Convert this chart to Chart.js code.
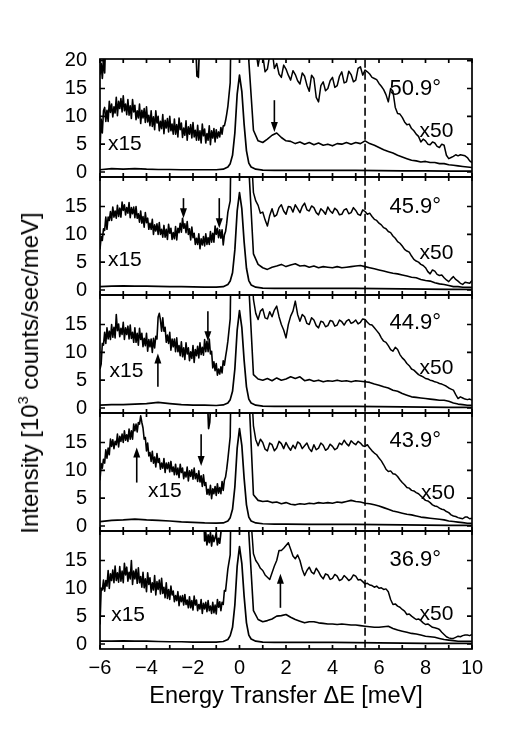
<!DOCTYPE html>
<html>
<head>
<meta charset="utf-8">
<script src="https://cdn.jsdelivr.net/npm/chart.js@4.4.0/dist/chart.umd.min.js"></script>
<style>
  body { margin: 0; background: #fff; width: 520px; height: 736px; position: relative; overflow: hidden;
         font-family: "Liberation Sans", Arial, sans-serif; }
  canvas { position: absolute; left: 0; }
  #ytitle { position: absolute; left: 30px; top: 373px; transform: translate(-50%, -50%) rotate(-90deg);
            white-space: nowrap; font-size: 24px; color: #000; }
  #ytitle sup { font-size: 60%; vertical-align: 0.7em; line-height: 0; }
</style>
</head>
<body>
<canvas id="p0"></canvas>
<canvas id="p1"></canvas>
<canvas id="p2"></canvas>
<canvas id="p3"></canvas>
<canvas id="p4"></canvas>
<div id="ytitle">Intensity [10<sup>3</sup> counts/sec/meV]</div>
<script>
// scattering angles, one panel each (top to bottom)
const angleLabels = ['50.9°', '45.9°', '44.9°', '43.9°', '36.9°'];

// sampling positions (meV)
const leftX = Array.from({ length: 111 }, (_, i) => +(-6 + i * 0.05).toFixed(2)); // -6 .. -0.5
const peakX = [-0.4, -0.3, -0.2, -0.1, 0, 0.1, 0.2, 0.3];
const rightX = Array.from({ length: 49 }, (_, i) => +(0.4 + i * 0.2).toFixed(1));  // 0.4 .. 10
const x50X = Array.from({ length: 97 }, (_, i) => +(0.4 + i * 0.1).toFixed(1));    // 0.4 .. 10
const baseX = [-6, -5.5, -5, -4.5, -4, -3.5, -3, -2.5, -2, -1.5, -1, -0.7, -0.5, -0.4, -0.3, -0.2, -0.1,
               0, 0.1, 0.2, 0.3, 0.4, 0.5, 0.7, 1, 1.5, 2, 3, 4, 5, 6, 7, 8, 9, 10];

// x15 curve through the elastic line (off scale)
const x15Peak = [16, 45, 100, 200, 260, 200, 100, 40];

// ---- 50.9 deg ----
const x15Left509 = [4.0,9.5,7.0,11.0,11.6,9.1,11.1,9.1,12.7,10.7,
  12.2,9.9,11.7,10.6,13.4,10.1,12.7,11.4,13.2,10.8,
  13.7,11.0,12.2,10.3,13.0,10.2,11.9,9.6,13.0,10.8,
  12.0,9.4,11.0,9.7,12.2,8.7,11.1,9.7,11.4,8.9,
  11.7,9.0,10.2,8.3,11.0,8.2,9.9,7.6,11.0,8.8,
  10.0,7.4,9.1,7.8,10.3,6.9,9.3,7.9,9.6,7.2,
  10.0,7.4,8.6,6.8,9.5,6.8,8.5,6.3,9.7,7.6,
  8.8,6.2,7.9,6.6,9.2,5.7,8.1,6.8,8.5,6.1,
  8.9,6.3,7.5,5.7,8.4,5.7,7.4,5.2,8.6,6.5,
  7.7,5.2,6.9,5.7,8.3,4.9,7.4,6.1,7.8,5.4,
  7.6,6.1,7.2,6.3,8.0,6.8,8.3,8.3,9.2,10.4,
  11.8];
const x15Right509 = [20,7.5,5.6,5.3,5.9,6.6,7.0,6.2,5.6,5.5,
  5.1,5.4,5.0,5.3,4.9,5.2,4.8,5.0,4.7,5.1,
  5.0,5.3,5.0,5.3,5.1,5.6,5.1,4.8,4.4,4.0,
  3.7,3.4,3.0,2.7,2.4,2.1,2.0,1.8,1.9,1.7,
  1.7,1.5,1.5,1.3,1.2,1.1,1.0,0.9,0.8];
const x50Right509 = [60,45,30,22,19,21.5,21,18,18.5,21,
  22,18.6,19.5,17.6,17,19.2,18.5,17.4,16.5,18.2,
  17.5,16.4,15.8,17.8,17.2,15.6,14.5,17.4,16.8,13.4,
  12.6,15.5,16.2,14.6,15.0,16.4,17.0,15.2,15.5,17.2,
  18.0,16.0,16.2,18.1,17.5,16.2,16.5,18.6,18.9,17.4,
  18.3,18.0,17.6,17.0,16.8,16.6,15.9,15.4,14.8,13.9,
  12.6,15.0,14.5,11.6,10.5,10.4,9.8,9.0,8.5,8.6,
  7.8,7.4,6.8,6.4,5.4,5.9,5.6,5.0,4.9,5.4,
  5.2,4.6,4.4,5.0,4.8,3.0,2.4,2.6,2.8,3.1,
  2.9,3.1,3.0,2.9,2.6,2.0,1.7];
const base509 = [0.4,0.6,0.5,0.6,0.5,0.45,0.45,0.4,0.4,0.4,
  0.4,0.5,0.9,1.5,3.0,7.0,14.0,17.4,14.5,8.5,
  3.8,1.6,0.9,0.5,0.35,0.3,0.3,0.3,0.3,0.3,
  0.25,0.2,0.2,0.15,0.15];
const x50FragX509 = [-6, -5.95, -5.9, -5.85, -5.8, -5.75, -4, -1.9, -1.83, -1.8, -1.77, -1.7];
const x50FragY509 = [17.5, 19.5, 16.8, 20.5, 17.8, 25, null, 25, 17.2, 18, 17, 25];

// ---- 45.9 deg ----
const x15Left459 = [7.3,9.6,8.9,11.0,10.7,13.1,10.9,13.1,12.5,14.1,
  12.5,14.9,13.1,14.2,12.9,15.2,13.2,14.7,13.1,15.8,
  14.3,15.3,13.5,14.8,13.8,15.7,13.0,14.8,13.7,14.9,
  13.0,15.0,12.9,13.7,12.2,14.2,12.0,13.2,11.3,13.9,
  12.1,12.9,10.9,12.0,10.9,12.7,10.0,11.7,10.6,11.9,
  10.0,12.1,10.0,10.9,9.5,11.6,9.5,10.9,9.1,11.8,
  10.2,11.1,9.1,10.3,9.2,11.4,9.0,11.1,10.3,12.0,
  10.4,12.9,11.1,11.9,10.3,12.3,10.0,11.0,9.0,11.3,
  9.4,10.2,8.2,9.3,8.2,10.1,7.4,9.2,8.1,9.6,
  7.9,10.1,8.2,9.4,8.2,10.5,8.6,10.2,8.6,11.5,
  10.0,11.1,9.4,10.8,9.3,10.8,8.1,9.9,10.5,12.0,
  14.0];
const x15Right459 = [22,6.5,4.6,4.0,3.7,4.1,4.3,4.6,4.2,4.5,
  4.7,4.3,4.4,4.1,4.3,4.0,4.2,4.1,4.0,4.2,
  4.0,4.1,4.2,4.3,4.4,4.2,4.0,3.8,3.6,3.4,
  3.2,3.0,2.9,2.7,2.5,2.3,2.2,1.9,1.7,1.6,
  1.3,1.1,1.0,0.8,0.6,0.6,0.5,0.5,0.5];
const x50Right459 = [40,25,17.5,16.0,15.2,13.8,14.0,12.6,11.5,13.4,
  14.6,13.2,13.5,14.8,15.3,14.2,13.6,15.0,14.9,14.0,
  15.3,14.6,13.9,15.0,15.6,14.4,14.2,15.1,14.8,13.9,
  13.5,14.6,14.2,13.6,14.9,14.2,13.8,14.7,14.3,13.5,
  13.6,14.4,14.6,13.7,13.9,14.8,14.3,13.6,13.4,14.4,
  14.1,13.6,13.8,13.2,12.7,12.5,12.0,11.7,11.2,11.0,
  10.5,10.3,9.7,9.3,8.7,8.4,7.9,7.3,7.0,6.8,
  6.1,5.5,5.2,5.0,4.6,4.4,4.0,3.3,2.9,3.6,
  3.4,2.8,2.6,2.7,2.2,1.8,1.5,2.0,2.4,1.9,
  1.6,1.2,1.0,1.4,1.3,1.2,1.7];
const base459 = [0.6,0.7,0.75,0.7,0.7,0.65,0.6,0.6,0.55,0.5,
  0.5,0.6,1.0,1.6,3.1,7.2,14.2,17.5,14.6,8.6,
  3.9,1.7,0.9,0.5,0.35,0.3,0.3,0.3,0.3,0.3,
  0.25,0.2,0.15,0.1,0.1];

// ---- 44.9 deg ----
const x15Left449 = [7.0,7.9,11.6,11.3,13.6,11.6,14.4,12.4,13.8,12.3,
  15.0,12.7,14.5,12.6,16.8,13.9,15.1,12.8,14.3,13.2,
  15.4,12.3,14.4,13.2,14.7,12.4,14.9,12.5,13.6,11.8,
  14.4,11.8,13.4,11.3,14.3,12.3,13.4,11.0,12.5,11.2,
  13.4,10.2,12.3,11.0,12.4,10.0,12.5,10.8,12.9,12.4,
  16.3,17.0,15.8,13.8,16.2,13.8,14.5,11.8,13.1,11.6,
  13.6,10.4,12.4,11.0,12.4,10.1,12.6,10.1,11.2,9.4,
  11.9,9.2,10.8,8.7,11.7,9.7,10.8,8.5,10.1,8.9,
  11.2,8.2,10.5,9.4,11.1,9.0,11.7,9.6,10.9,9.5,
  12.3,10.1,12.0,10.1,12.4,9.7,10.2,7.2,8.3,6.7,
  8.0,5.9,7.0,6.1,7.4,6.3,8.5,7.7,9.2,10.5,
  12.0];
const x15Right449 = [22,6.0,5.2,5.0,5.3,4.9,5.4,5.0,5.2,5.6,
  5.3,5.6,4.9,5.1,4.8,5.0,4.7,4.9,4.8,5.0,
  4.8,4.9,4.7,4.9,4.8,4.7,4.6,4.3,4.1,3.8,
  3.6,3.2,3.0,2.6,2.3,2.0,1.9,1.8,1.7,1.6,
  1.5,1.4,1.4,1.2,0.9,0.7,0.6,0.5,0.5];
const x50Right449 = [40,28,19.5,17.0,15.9,17.4,17.8,16.2,16.0,17.3,
  16.4,17.6,18.3,16.4,15.0,14.0,12.6,15.0,16.5,17.4,
  19.2,16.8,15.6,16.8,16.4,15.2,15.0,16.2,15.8,14.8,
  14.4,15.6,15.4,14.6,14.8,15.7,15.6,14.7,14.9,15.8,
  15.5,14.9,15.6,15.9,15.2,15.4,15.8,15.1,15.4,16.0,
  15.9,15.4,15.0,14.9,14.4,13.9,13.4,12.6,12.0,11.8,
  11.2,10.5,10.2,10.9,10.5,9.6,9.0,8.6,8.0,7.6,
  7.0,6.8,6.4,6.0,5.8,5.6,5.3,5.2,5.0,4.9,
  4.7,4.6,4.4,4.3,4.1,3.9,3.6,3.4,3.2,2.4,
  1.7,2.0,1.8,1.6,1.5,1.6,1.4];
const base449 = [0.5,0.6,0.6,0.7,0.8,1.0,0.8,0.6,0.5,0.5,
  0.45,0.55,0.9,1.5,3.0,7.0,14.0,17.5,14.5,8.5,
  3.8,1.6,0.9,0.5,0.35,0.3,0.3,0.3,0.3,0.3,
  0.25,0.2,0.15,0.1,0.1];

// ---- 43.9 deg ----
const x15Left439 = [8.2,11.2,10.4,12.0,11.3,13.7,12.2,14.0,12.8,15.6,
  14.3,15.5,13.9,15.2,14.6,16.5,14.2,16.1,15.2,16.5,
  15.0,17.1,15.4,16.4,15.2,17.4,15.6,17.1,15.6,18.3,
  17.1,18.3,16.9,18.6,18.3,19.8,18.6,17.6,15.6,15.9,
  13.5,14.9,12.6,13.2,11.6,13.4,11.3,12.4,10.6,13.0,
  11.4,12.1,10.2,11.3,10.4,12.1,9.6,11.3,10.3,11.4,
  9.7,11.6,9.8,10.6,9.2,11.1,9.2,10.4,8.7,11.1,
  9.6,10.4,8.5,9.7,8.8,10.6,8.1,9.9,8.9,10.1,
  8.4,10.4,8.5,9.4,8.0,9.9,7.9,9.0,7.1,9.2,
  7.3,7.8,5.7,6.6,5.6,7.3,4.9,6.7,5.8,7.1,
  5.5,7.6,5.9,6.9,5.8,8.0,6.4,8.2,8.8,10.2,
  12.0];
const x15Right439 = [24,5.6,4.6,4.4,4.5,4.2,4.3,4.0,4.2,3.9,
  3.8,4.0,3.9,4.1,4.0,4.2,4.1,4.2,4.1,4.3,
  4.2,4.4,4.6,4.4,4.3,4.1,4.0,3.8,3.6,3.3,
  3.0,2.7,2.5,2.3,2.1,2.0,1.8,1.6,1.5,1.4,
  1.3,1.2,1.1,0.9,0.8,0.7,0.6,0.5,0.5];
const x50Right439 = [40,26,18.0,15.5,14.4,15.6,15.0,13.8,13.5,14.9,
  14.6,13.5,14.0,15.2,14.8,13.9,15.0,14.2,13.6,14.5,
  13.9,15.1,14.8,13.9,14.4,14.9,13.9,13.4,14.6,13.7,
  14.0,14.9,14.5,13.6,13.9,14.7,14.3,13.7,14.0,14.9,
  14.6,15.4,14.8,14.4,15.3,14.9,14.6,15.2,14.9,14.4,
  14.3,14.6,14.0,13.5,13.1,12.8,12.2,11.7,11.0,10.2,
  9.8,9.9,9.4,9.3,8.9,8.3,7.8,7.4,6.9,6.8,
  6.4,6.3,6.0,5.8,5.4,5.0,4.6,4.5,4.2,3.8,
  3.6,3.5,3.2,3.0,2.9,2.6,2.4,2.0,1.8,1.7,
  1.5,1.4,1.3,1.6,1.6,1.3,1.4];
const base439 = [0.8,1.0,1.1,1.25,1.1,1.0,0.9,0.75,0.65,0.55,
  0.5,0.55,0.9,1.5,3.0,7.0,14.0,17.5,14.5,8.5,
  3.8,1.6,0.9,0.55,0.4,0.35,0.35,0.3,0.3,0.3,
  0.25,0.2,0.15,0.1,0.1];
const x50FragX439 = [-1.4, -1.33, -1.28, -1.2];
const x50FragY439 = [25, 17.5, 18.6, 25];

// ---- 36.9 deg ----
const x15Left369 = [3.5,9.8,9.7,11.5,9.5,11.4,10.4,13.2,10.0,12.6,
  11.4,13.3,11.0,14.0,11.4,12.8,11.1,13.9,11.3,13.1,
  11.0,14.5,12.4,13.8,11.3,12.9,11.7,15.0,10.7,13.1,
  11.7,13.4,10.9,13.7,11.0,12.1,10.2,12.9,10.1,11.7,
  9.4,12.8,10.7,11.9,9.3,11.0,9.7,12.3,8.8,11.2,
  9.8,11.5,9.0,11.8,9.1,10.2,8.3,11.0,8.2,9.8,
  8.0,10.4,8.8,9.5,7.6,8.7,7.8,9.4,6.9,8.6,
  7.6,8.7,7.0,8.9,7.1,7.9,6.5,8.5,6.5,7.8,
  6.1,8.6,7.0,7.9,6.0,7.1,6.3,8.0,5.5,7.3,
  6.3,7.5,5.8,7.8,6.0,6.8,5.5,7.5,5.6,7.0,
  5.4,8.0,6.6,7.6,6.0,7.5,7.1,9.6,9.5,11.5,
  13.5];
const x15Right369 = [20,6.0,4.4,4.0,4.2,4.5,5.0,5.1,5.3,4.8,
  4.4,4.1,3.8,4.0,4.0,3.8,3.7,3.6,3.6,3.5,
  3.6,3.5,3.4,3.4,3.3,3.2,3.1,3.0,3.0,3.1,
  3.2,2.8,2.5,2.3,2.1,1.9,1.8,1.6,1.4,1.3,
  1.2,1.0,0.8,0.7,0.6,0.5,0.5,0.5,0.5];
const x50Right369 = [40,22,16.2,15.0,14.4,13.6,13.2,12.4,12.0,11.6,
  12.8,14.0,15.0,16.8,16.8,17.2,17.7,18.2,17.0,15.8,
  15.3,16.0,15.0,13.4,12.3,13.2,13.8,12.9,12.6,13.6,
  13.0,12.2,11.7,12.6,12.4,11.6,11.8,12.5,12.2,11.4,
  11.6,12.3,11.9,11.4,11.7,12.4,12.2,11.5,11.6,11.2,
  10.8,10.9,10.6,10.5,10.2,10.4,10.0,10.1,9.8,9.9,
  9.4,8.0,7.1,7.2,6.8,6.6,6.2,5.9,5.3,5.4,
  5.0,4.7,4.4,4.5,4.2,3.8,3.5,3.6,3.3,3.0,
  2.9,2.8,2.6,2.1,1.7,1.3,1.1,1.0,1.0,1.2,
  1.4,1.3,1.5,1.6,1.6,1.5,1.7];
const base369 = [0.5,0.5,0.55,0.5,0.5,0.45,0.4,0.4,0.35,0.35,
  0.35,0.45,0.8,1.5,3.0,7.0,14.0,17.5,14.5,8.5,
  3.8,1.6,0.9,0.5,0.35,0.3,0.3,0.3,0.3,0.25,
  0.2,0.15,0.1,0.1,0.1];
const x50FragX369 = [-1.55,-1.5,-1.45,-1.4,-1.35,-1.3,-1.25,-1.2,-1.15,-1.1,-1.0,-0.95,-0.9,-0.85,-0.8,-0.75];
const x50FragY369 = [25,18.5,20,17.8,19.6,18.2,20,17.6,19.5,18.4,19.8,17.8,19,18.1,20,25];

// dashed marker position (meV)
const markerX = 5.4;

// arrows: [x, tail, tip] in data units
const arrows509 = [[1.5, 12.9, 7.2]];
const arrows459 = [[-2.41, 16.5, 12.9], [-0.87, 16.5, 11.1]];
const arrows449 = [[-3.51, 3.8, 9.8], [-1.36, 17.4, 12.0]];
const arrows439 = [[-4.42, 7.8, 14.1], [-1.65, 16.5, 10.8]];
const arrows369 = [[1.76, 6.5, 12.6]];

const panels = [
  { base: base509, left: x15Left509, right: x15Right509, x50: x50Right509, fx: x50FragX509, fy: x50FragY509,
    arrows: arrows509, x15At: [-5.66, 5.0], x50At: [7.74, 7.4], angleAt: [6.45, 15.0] },
  { base: base459, left: x15Left459, right: x15Right459, x50: x50Right459, fx: [], fy: [],
    arrows: arrows459, x15At: [-5.66, 5.3], x50At: [7.74, 6.6], angleAt: [6.45, 15.0] },
  { base: base449, left: x15Left449, right: x15Right449, x50: x50Right449, fx: [], fy: [],
    arrows: arrows449, x15At: [-5.59, 6.6], x50At: [7.74, 7.2], angleAt: [6.45, 15.2] },
  { base: base439, left: x15Left439, right: x15Right439, x50: x50Right439, fx: x50FragX439, fy: x50FragY439,
    arrows: arrows439, x15At: [-3.94, 6.3], x50At: [7.81, 5.9], angleAt: [6.45, 15.2] },
  { base: base369, left: x15Left369, right: x15Right369, x50: x50Right369, fx: x50FragX369, fy: x50FragY369,
    arrows: arrows369, x15At: [-5.52, 5.2], x50At: [7.74, 5.4], angleAt: [6.45, 15.1] }
];

const FONT = '"Liberation Sans", Arial, Helvetica, sans-serif';
const PANEL_TOP = 59;
const PANEL_H = 118;

function pts(xs, ys) {
  return xs.map((x, i) => ({ x: x, y: ys[i] === undefined ? null : ys[i] }));
}

// frame, inward ticks, arrows and panel labels
const framePlugin = {
  id: 'frame',
  afterDatasetsDraw(chart, args, opts) {
    const ctx = chart.ctx;
    const a = chart.chartArea;
    const xs = chart.scales.x, ys = chart.scales.y;
    ctx.save();
    ctx.strokeStyle = '#000';
    ctx.fillStyle = '#000';
    ctx.lineWidth = 1.7;
    ctx.strokeRect(a.left, a.top, a.right - a.left, a.bottom - a.top);
    ctx.beginPath();
    for (let v = -6; v <= 10; v++) {
      const px = xs.getPixelForValue(v);
      ctx.moveTo(px, a.top); ctx.lineTo(px, a.top + 4);
      ctx.moveTo(px, a.bottom); ctx.lineTo(px, a.bottom - 4);
    }
    ys.ticks.forEach(t => {
      const py = ys.getPixelForValue(t.value);
      ctx.moveTo(a.left, py); ctx.lineTo(a.left + 5, py);
      ctx.moveTo(a.right, py); ctx.lineTo(a.right - 5, py);
    });
    ctx.stroke();

    ctx.lineWidth = 1.6;
    (opts.arrows || []).forEach(([x, tail, tip]) => {
      const px = xs.getPixelForValue(x);
      const p0 = ys.getPixelForValue(tail), p1 = ys.getPixelForValue(tip);
      const dir = p1 > p0 ? 1 : -1;
      ctx.beginPath();
      ctx.moveTo(px, p0); ctx.lineTo(px, p1 - dir * 6);
      ctx.stroke();
      ctx.beginPath();
      ctx.moveTo(px, p1);
      ctx.lineTo(px - 3.5, p1 - dir * 10);
      ctx.lineTo(px + 3.5, p1 - dir * 10);
      ctx.closePath();
      ctx.fill();
    });

    ctx.textAlign = 'left';
    ctx.textBaseline = 'middle';
    (opts.labels || []).forEach(([text, x, y, size]) => {
      ctx.font = size + 'px ' + FONT;
      ctx.fillText(text, xs.getPixelForValue(x), ys.getPixelForValue(y));
    });
    ctx.restore();
  }
};

function makePanel(i) {
  const p = panels[i];
  const last = i === panels.length - 1;
  const xAxisH = last ? 66 : 0;
  const canvas = document.getElementById('p' + i);
  const h = PANEL_H + xAxisH + 40;
  canvas.width = 520;
  canvas.height = h;

  const x15X = leftX.concat(peakX, rightX);
  const x15Y = p.left.concat(x15Peak, p.right);
  const line = { borderColor: '#000', borderWidth: 1.7, pointRadius: 0, fill: false, spanGaps: false };

  const chart = new Chart(canvas, {
    type: 'line',
    data: {
      datasets: [
        Object.assign({ data: pts(baseX, p.base) }, line),
        Object.assign({ data: pts(x15X, x15Y) }, line, { borderWidth: 1.6 }),
        Object.assign({ data: pts(x50X, p.x50) }, line, { borderWidth: 1.5 }),
        Object.assign({ data: pts(p.fx, p.fy) }, line),
        Object.assign({ data: [{ x: markerX, y: -5 }, { x: markerX, y: 25 }], borderDash: [8, 4] }, line, { borderWidth: 1.6 })
      ]
    },
    options: {
      responsive: false,
      maintainAspectRatio: false,
      animation: false,
      events: [],
      layout: { padding: { left: 40, right: 48, top: 0, bottom: 0 } },
      elements: { line: { tension: 0, borderJoinStyle: 'round' }, point: { radius: 0 } },
      plugins: {
        legend: { display: false },
        tooltip: { enabled: false },
        frame: {
          arrows: p.arrows,
          labels: [
            ['x15', p.x15At[0], p.x15At[1], 21],
            ['x50', p.x50At[0], p.x50At[1], 21],
            [angleLabels[i], p.angleAt[0], p.angleAt[1], 22]
          ]
        }
      },
      scales: {
        x: {
          type: 'linear', min: -6, max: 10,
          grid: { display: false, drawTicks: false },
          border: { display: false },
          ticks: {
            display: last, stepSize: 2, padding: 7, color: '#000',
            font: { family: FONT, size: 20 },
            callback: v => (v < 0 ? '\u2212' + Math.abs(v) : String(v))
          },
          title: {
            display: last, text: 'Energy Transfer \u0394E [meV]', color: '#000',
            font: { family: FONT, size: 23.5 }, padding: { top: 2, bottom: 4 }
          },
          afterFit: s => { s.height = xAxisH; }
        },
        y: {
          min: -0.9, max: 20.3,
          grid: { display: false, drawTicks: false },
          border: { display: false },
          afterBuildTicks: s => { s.ticks = (i === 0 ? [0, 5, 10, 15, 20] : [0, 5, 10, 15]).map(v => ({ value: v })); },
          ticks: { color: '#000', padding: 13, font: { family: FONT, size: 20 } },
          afterFit: s => { s.width = 60; }
        }
      }
    },
    plugins: [framePlugin]
  });

  // make every plot area exactly PANEL_H tall and line it up with its slot
  const a = chart.chartArea;
  const extra = PANEL_H - (a.bottom - a.top);
  if (Math.abs(extra) > 0.01) chart.resize(520, h + extra);
  canvas.style.top = (PANEL_TOP + i * PANEL_H - chart.chartArea.top) + 'px';
}

panels.forEach((_, i) => makePanel(i));
</script>
</body>
</html>
